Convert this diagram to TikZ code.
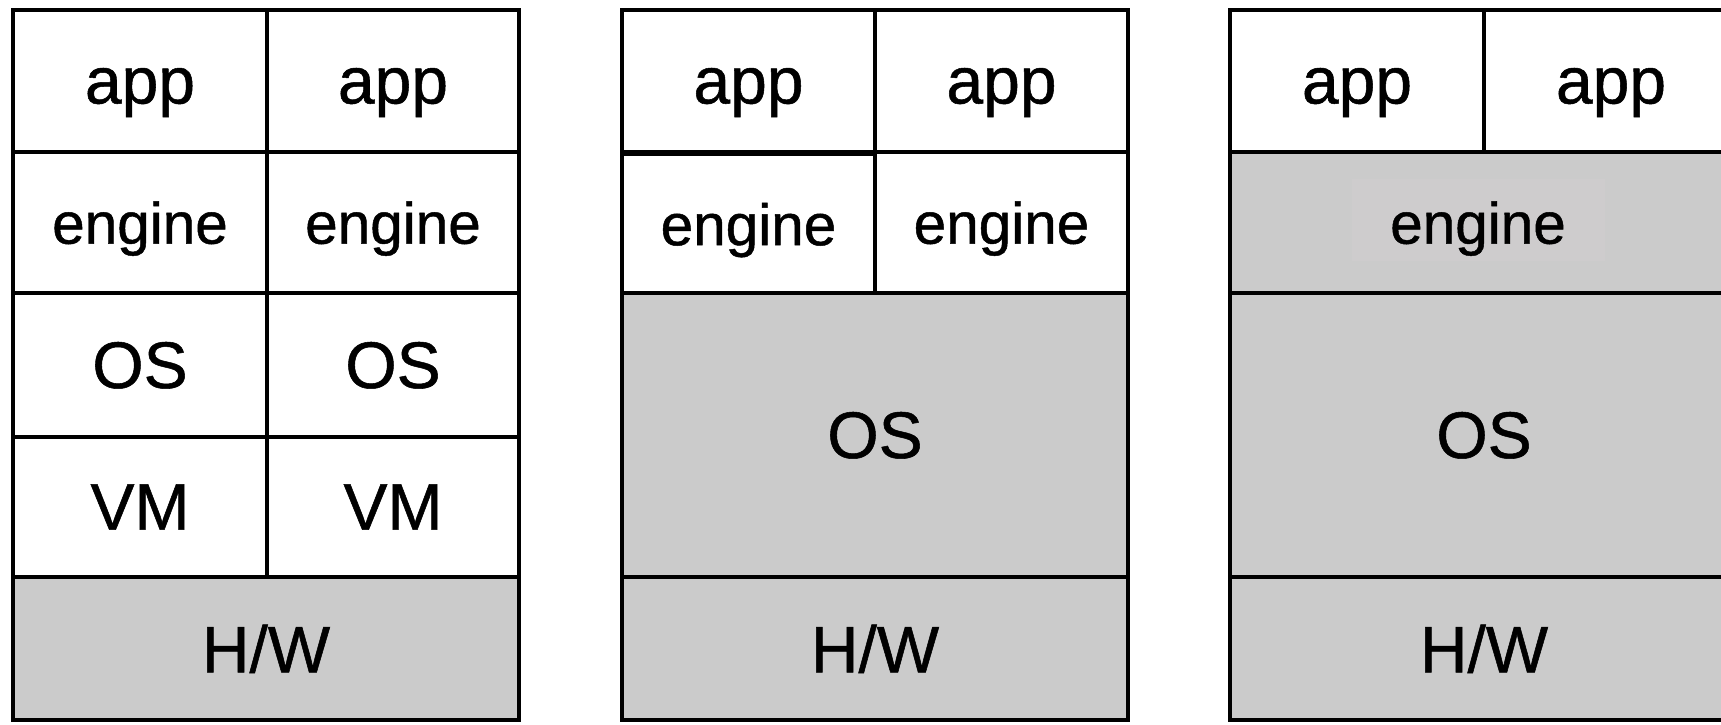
\documentclass[tikz,border=0pt]{standalone}
\usepackage{fontspec}
\setmainfont{Liberation Sans}
\newfontfamily\labelfont[FakeBold=0.8]{Liberation Sans}
\begin{document}
\begin{tikzpicture}[x=1pt,y=-1pt,
  cell/.style={draw=black, line width=4.5pt, inner sep=0pt, outer sep=0pt,
    text depth=0pt, font=\labelfont\fontsize{66}{70}\selectfont, text=black},
  blank/.style={cell, fill=white},
  shade/.style={cell, fill=layergray},
  apptext/.style={text height=45pt},
  small/.style={font=\labelfont\fontsize{58.5}{62}\selectfont}]
\definecolor{layergray}{HTML}{CBCBCB}
\definecolor{patchgray}{HTML}{CECCCD}
\useasboundingbox (0,0) rectangle (1721,724);
\clip (0,0) rectangle (1721,724);
\fill[white] (0,0) rectangle (1721,724);

% --- stack 1: two full guest stacks on virtual machines
\node[blank, apptext, minimum width=254pt, minimum height=142pt] (a1) at (140,81) {app};
\node[blank, apptext, minimum width=252pt, minimum height=142pt] (a2) at (393,81) {app};
\node[blank, small, minimum width=254pt, minimum height=141pt] (e1) at (140,222.5) {engine};
\node[blank, small, minimum width=252pt, minimum height=141pt] (e2) at (393,222.5) {engine};
\node[blank, minimum width=254pt, minimum height=144pt] (o1) at (140,365) {OS};
\node[blank, minimum width=252pt, minimum height=144pt] (o2) at (393,365) {OS};
\node[blank, minimum width=254pt, minimum height=140pt] (v1) at (140,507) {VM};
\node[blank, minimum width=252pt, minimum height=140pt] (v2) at (393,507) {VM};
\node[shade, minimum width=506pt, minimum height=143pt] (h1) at (266,648.5) {H/W};

% --- stack 2: separate engines on a shared OS
\node[blank, apptext, minimum width=253pt, minimum height=142pt] (b1) at (748.5,81) {app};
\node[blank, apptext, minimum width=253pt, minimum height=142pt] (b2) at (1001.5,81) {app};
\node[blank, small, minimum width=253pt, minimum height=141pt] (f1) at (748.5,224) {engine};
\node[blank, small, minimum width=253pt, minimum height=141pt] (f2) at (1001.5,222.5) {engine};
\node[shade, minimum width=506pt, minimum height=284pt] (p1) at (875,435) {OS};
\node[shade, minimum width=506pt, minimum height=143pt] (h2) at (875,648.5) {H/W};

% --- stack 3: one shared engine on a shared OS
\node[blank, apptext, minimum width=254pt, minimum height=142pt] (c1) at (1357,81) {app};
\node[blank, apptext, minimum width=254pt, minimum height=142pt] (c2) at (1611,81) {app};
\node[shade, minimum width=508pt, minimum height=141pt] (g1) at (1484,222.5) {};
\fill[patchgray] (1352,179) rectangle (1605,261);
\node[small, inner sep=0pt, text depth=0pt] (g1t) at (1478,222.5) {engine};
\node[shade, minimum width=508pt, minimum height=284pt] (q1) at (1484,435) {OS};
\node[shade, minimum width=508pt, minimum height=143pt] (h3) at (1484,648.5) {H/W};
\end{tikzpicture}
\end{document}
